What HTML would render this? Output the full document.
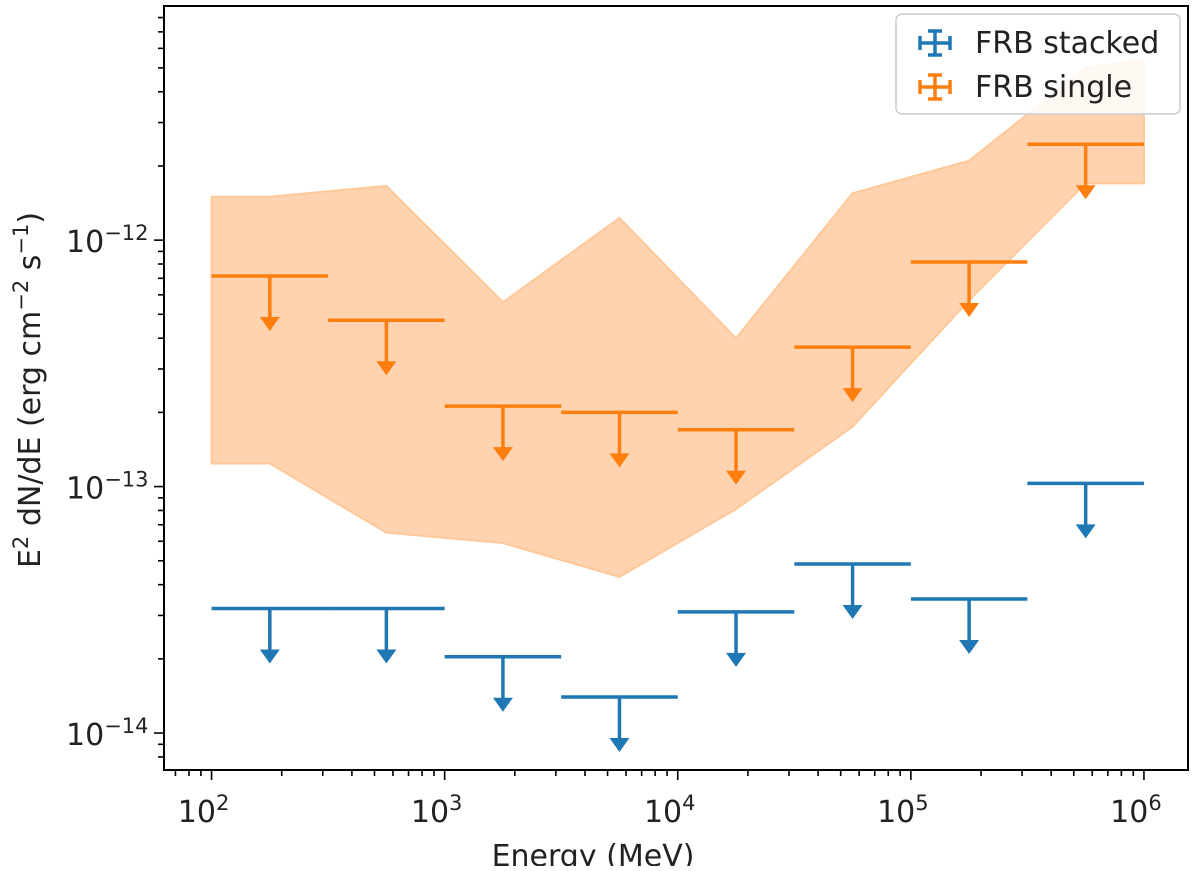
<!DOCTYPE html>
<html><head><meta charset="utf-8"><style>
body{margin:0;background:#fff;}
svg text{font-family:"DejaVu Sans","Liberation Sans",sans-serif;fill:#222;}
</style></head><body>
<svg id="chart" width="1200" height="866" xmlns="http://www.w3.org/2000/svg">
<g id="band"></g>
<g id="marks"></g>
<g id="axes"></g>
<g>
<rect x="896" y="14" width="284" height="100" rx="6" fill="#fff" fill-opacity="0.85" stroke="#ccc" stroke-width="1.5"/>
<g stroke="#1f77b4" stroke-width="3.5"><line x1="920" y1="43" x2="950" y2="43"/><line x1="935" y1="31" x2="935" y2="55"/><line x1="920" y1="36" x2="920" y2="50"/><line x1="950" y1="36" x2="950" y2="50"/><line x1="928" y1="31" x2="942" y2="31"/><line x1="928" y1="55" x2="942" y2="55"/></g>
<text x="975" y="53" font-size="30">FRB stacked</text>
<g stroke="#ff7f0e" stroke-width="3.5"><line x1="920" y1="87" x2="950" y2="87"/><line x1="935" y1="75" x2="935" y2="99"/><line x1="920" y1="80" x2="920" y2="94"/><line x1="950" y1="80" x2="950" y2="94"/><line x1="928" y1="75" x2="942" y2="75"/><line x1="928" y1="99" x2="942" y2="99"/></g>
<text x="975" y="97" font-size="30">FRB single</text>
</g>
<text x="593" y="866" font-size="30" text-anchor="middle">Energy (MeV)</text>
<text transform="translate(40,390) rotate(-90)" font-size="30" text-anchor="middle">E<tspan dy="-12" font-size="21">2</tspan><tspan dy="12"> dN/dE (erg cm</tspan><tspan dy="-12" font-size="21">−2</tspan><tspan dy="12"> s</tspan><tspan dy="-12" font-size="21">−1</tspan><tspan dy="12">)</tspan></text>
</svg>
<script>
const binEdgesLog = [2,2.5,3,3.5,4,4.5,5,5.5,6];
const singleValues = [7.15e-13,4.73e-13,2.12e-13,2.0e-13,1.7e-13,3.68e-13,8.15e-13,2.45e-12];
const stackedValues = [3.2e-14,3.2e-14,2.04e-14,1.4e-14,3.1e-14,4.85e-14,3.5e-14,1.03e-13];
const bandXLog = [2,2.25,2.75,3.25,3.75,4.25,4.75,5.25,5.75,6];
const bandUpper = [1.5e-12,1.5e-12,1.66e-12,5.6e-13,1.23e-12,4.0e-13,1.55e-12,2.1e-12,5.0e-12,5.4e-12];
const bandLower = [1.24e-13,1.24e-13,6.5e-14,5.9e-14,4.3e-14,8.1e-14,1.75e-13,5.7e-13,1.7e-12,1.7e-12];
const xTickLabels = ["2","3","4","5","6"];
const yTickLabels = ["−14","−13","−12"];

const L=164,R=1188,T=6,B=770;
const xMin=1.796,xMax=6.189,yMin=-14.15,yMax=-11.05;
const X=lg=>L+(lg-xMin)/(xMax-xMin)*(R-L);
const Y=v=>B-(Math.log10(v)-yMin)/(yMax-yMin)*(B-T);
const NS="http://www.w3.org/2000/svg";
function mk(tag,attrs,parent){const e=document.createElementNS(NS,tag);for(const k in attrs)e.setAttribute(k,attrs[k]);parent.appendChild(e);return e;}

const band=document.getElementById('band');
let pts=bandXLog.map((x,i)=>X(x)+','+Y(bandUpper[i]));
for(let i=bandXLog.length-1;i>=0;i--)pts.push(X(bandXLog[i])+','+Y(bandLower[i]));
const poly=mk('polygon',{points:pts.join(' '),fill:'#ffd3b0',stroke:'#ffc899','stroke-width':2},band);



const marks=document.getElementById('marks');
function series(vals,color,name){
  vals.forEach((v,i)=>{
    const g=mk('g',{stroke:color,'stroke-width':3.5,fill:color},marks);
    
    
    const x0=X(binEdgesLog[i]),x1=X(binEdgesLog[i+1]),xc=X((binEdgesLog[i]+binEdgesLog[i+1])/2),y=Y(v);
    mk('line',{x1:x0,x2:x1,y1:y,y2:y},g);
    const tip=y+55;
    mk('line',{x1:xc,x2:xc,y1:y,y2:tip-10},g);
    mk('polygon',{points:`${xc-10},${tip-14} ${xc+10},${tip-14} ${xc},${tip}`,stroke:'none'},g);
  });
}
series(singleValues,'#ff7f0e','single');
series(stackedValues,'#1f77b4','stacked');

const ax=document.getElementById('axes');
const frame=mk('rect',{x:L,y:T,width:R-L,height:B-T,fill:'none',stroke:'#000','stroke-width':2},ax);


for(let d=1;d<=6;d++)for(let m=1;m<10;m++){
  const lg=d+Math.log10(m);if(lg<xMin||lg>xMax)continue;const x=X(lg);
  mk('line',{x1:x,x2:x,y1:B,y2:B+(m==1?10:6),stroke:'#000','stroke-width':1.6},ax);
}
xTickLabels.forEach(s=>{const x=X(+s);
  const t=mk('text',{x:x-8,y:B+52,'font-size':30,'text-anchor':'middle'},ax);
  
  
  t.innerHTML='10<tspan dy="-12" font-size="21">'+s+'</tspan>';});
for(let d=-15;d<=-11;d++)for(let m=1;m<10;m++){
  const lg=d+Math.log10(m);if(lg<yMin||lg>yMax)continue;const y=Y(Math.pow(10,lg));
  mk('line',{x1:L,x2:L-(m==1?10:6),y1:y,y2:y,stroke:'#000','stroke-width':1.6},ax);
}
yTickLabels.forEach(s=>{const lg=-parseInt(s.replace('−',''));const y=Y(Math.pow(10,lg));
  const t=mk('text',{x:66,y:y+12,'font-size':30},ax);
  
  
  t.innerHTML='10<tspan dy="-12" font-size="21">'+s+'</tspan>';});
</script>
</body></html>
